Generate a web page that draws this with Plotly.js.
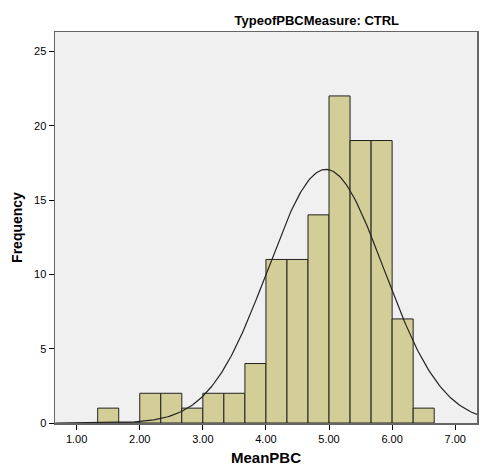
<!DOCTYPE html>
<html>
<head>
<meta charset="utf-8">
<script src="https://cdn.plot.ly/plotly-3.0.1.min.js"></script>
<style>html,body{margin:0;padding:0;background:#fff;}#chart{width:483px;height:468px;}</style>
</head>
<body>
<div id="chart"></div>
<script>
// Histogram bins (start of each bin), width 1/3
var binStarts = [1.3333, 1.6667, 2.0, 2.3333, 2.6667, 3.0, 3.3333, 3.6667, 4.0, 4.3333, 4.6667, 5.0, 5.3333, 5.6667, 6.0, 6.3333];
var counts    = [1,      0,      2,   2,      1,      2,   2,      4,      11,  11,     14,     22,  19,     19,     7,   1];
var binWidth = 1/3;
// Normal curve parameters (SPSS fitted)
var meanVal = 4.95;
var sdVal = 0.92;
var nTotal = 118;
var xTickVals = [1, 2, 3, 4, 5, 6, 7];
var xTickText = ["1.00", "2.00", "3.00", "4.00", "5.00", "6.00", "7.00"];
var yTickVals = [0, 5, 10, 15, 20, 25];

var centers = binStarts.map(function(s){ return s + binWidth/2; });

var cx = [], cy = [];
for (var i = 0; i <= 300; i++) {
  var x = 0.66 + (7.35 - 0.66) * i / 300;
  var z = (x - meanVal) / sdVal;
  cx.push(x);
  cy.push(nTotal * binWidth / (sdVal * Math.sqrt(2*Math.PI)) * Math.exp(-0.5*z*z));
}

var traces = [
  {
    type: 'bar', x: centers, y: counts, width: binWidth,
    marker: {color: 'rgb(211,206,151)', line: {color: '#222', width: 1}},
    hoverinfo: 'skip'
  },
  {
    type: 'scatter', mode: 'lines', x: cx, y: cy,
    line: {color: '#222', width: 1.2}, hoverinfo: 'skip'
  }
];

var layout = {
  width: 483, height: 468,
  margin: {l: 55, r: 6, t: 32, b: 45},
  paper_bgcolor: '#ffffff',
  plot_bgcolor: '#f0f0f0',
  showlegend: false,
  bargap: 0,
  font: {family: 'Liberation Sans, Arial, sans-serif', color: '#000', size: 11},
  title: {
    text: '<b>TypeofPBCMeasure: CTRL</b>',
    font: {size: 13, family: 'Liberation Sans, Arial, sans-serif', color: '#000'},
    xref: 'container', yref: 'container',
    x: 0.656, xanchor: 'center', y: 0.957, yanchor: 'middle'
  },
  xaxis: {
    range: [0.657, 7.345],
    tickvals: xTickVals, ticktext: xTickText,
    ticks: 'outside', ticklen: 5, tickcolor: '#000', tickwidth: 1,
    showgrid: false, zeroline: false,
    showline: true, linecolor: '#666', linewidth: 1.5, mirror: true,
    tickfont: {size: 11, color: '#000'},
    title: {text: '<b>MeanPBC</b>', font: {size: 15, color: '#000'}, standoff: 9}
  },
  yaxis: {
    range: [0, 26.3],
    tickvals: yTickVals,
    ticks: 'outside', ticklen: 5, tickcolor: '#000', tickwidth: 1,
    showgrid: false, zeroline: false,
    showline: true, linecolor: '#666', linewidth: 1.5, mirror: true,
    tickfont: {size: 11, color: '#000'},
    title: {text: '<b>Frequency</b>', font: {size: 14, color: '#000'}, standoff: 8}
  }
};

Plotly.newPlot('chart', traces, layout, {displayModeBar: false, staticPlot: true});
</script>
</body>
</html>
